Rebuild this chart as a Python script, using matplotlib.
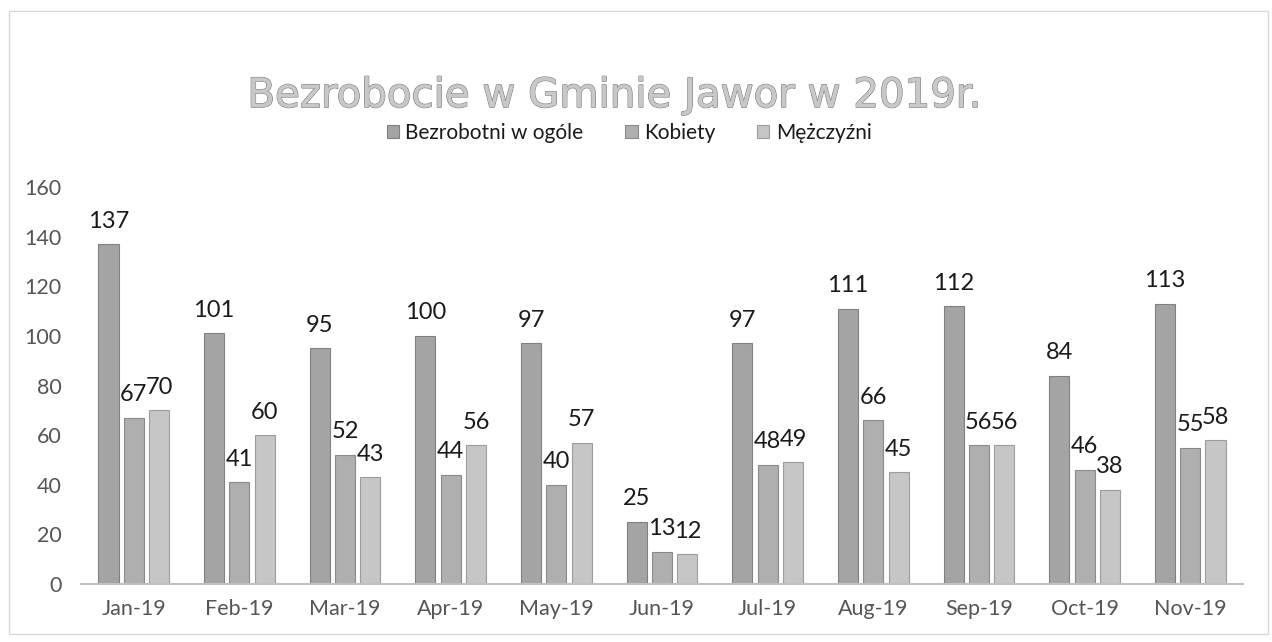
import matplotlib
matplotlib.use("Agg")
import matplotlib.pyplot as plt
import numpy as np
from matplotlib.patches import Rectangle
import matplotlib.patheffects as pe

categories = ["Jan-19", "Feb-19", "Mar-19", "Apr-19", "May-19", "Jun-19",
              "Jul-19", "Aug-19", "Sep-19", "Oct-19", "Nov-19"]
series_names = ["Bezrobotni w ogóle", "Kobiety", "Mężczyźni"]
ogolem = [137, 101, 95, 100, 97, 25, 97, 111, 112, 84, 113]
kobiety = [67, 41, 52, 44, 40, 13, 48, 66, 56, 46, 55]
mezczyzni = [70, 60, 43, 56, 57, 12, 49, 45, 56, 38, 58]
yticks = [0, 20, 40, 60, 80, 100, 120, 140, 160]
title = "Bezrobocie w Gminie Jawor w 2019r."

plt.rcParams['font.family'] = ['Lato', 'DejaVu Sans']

fig = plt.figure(figsize=(12.72, 6.42), dpi=100)
ax = fig.add_axes([81/1272, 58/642, (1243-81)/1272, (584-187)/642])

x = np.arange(len(categories))
w = 0.19
step = 0.24
colors = ["#a4a4a4", "#afafaf", "#c6c6c6"]
edges = ["#808080", "#8a8a8a", "#9c9c9c"]
data = [ogolem, kobiety, mezczyzni]
for i, (vals, c, ec, name) in enumerate(zip(data, colors, edges, series_names)):
    bars = ax.bar(x + (i - 1) * step, vals, width=w, color=c, edgecolor=ec,
                  linewidth=0.8, label=name)
    for b, v in zip(bars, vals):
        ax.annotate(str(v), (b.get_x() + b.get_width() / 2, v),
                    xytext=(0, 9), textcoords="offset points",
                    ha="center", va="bottom", fontsize=17, color="#1a1a1a")

ax.set_xlim(-0.5, len(categories) - 0.5)
ax.set_ylim(0, 160)
ax.set_yticks(yticks)
ax.set_xticks(x)
ax.set_xticklabels(categories)
ax.tick_params(axis="both", length=0, labelsize=15.5, labelcolor="#555555")
ax.tick_params(axis="x", pad=11)
ax.tick_params(axis="y", pad=14)
for s in ["top", "right", "left"]:
    ax.spines[s].set_visible(False)
ax.spines["bottom"].set_color("#c0c0c0")
ax.spines["bottom"].set_linewidth(1.5)

fig.text(614/1272, 1 - 96/642, title, ha="center", va="center",
         fontsize=29, family=["DejaVu Sans"], color="#c8c8c8",
         path_effects=[pe.withStroke(linewidth=1.0, foreground="#7a7a7a"),
                       pe.Normal()])

leg = fig.legend(loc="center", bbox_to_anchor=(629/1272, 1 - 133/642),
                 ncol=3, frameon=False, fontsize=15, handlelength=0.6,
                 handleheight=0.6, columnspacing=2.0, handletextpad=0.3)
for t in leg.get_texts():
    t.set_color("#1a1a1a")

fig.patches.append(Rectangle((9/1272, 8/642), (1268-9)/1272, (631-8)/642,
                             transform=fig.transFigure, fill=False,
                             edgecolor="#d8d8d8", linewidth=1))

fig.savefig("out.png", dpi=100)
